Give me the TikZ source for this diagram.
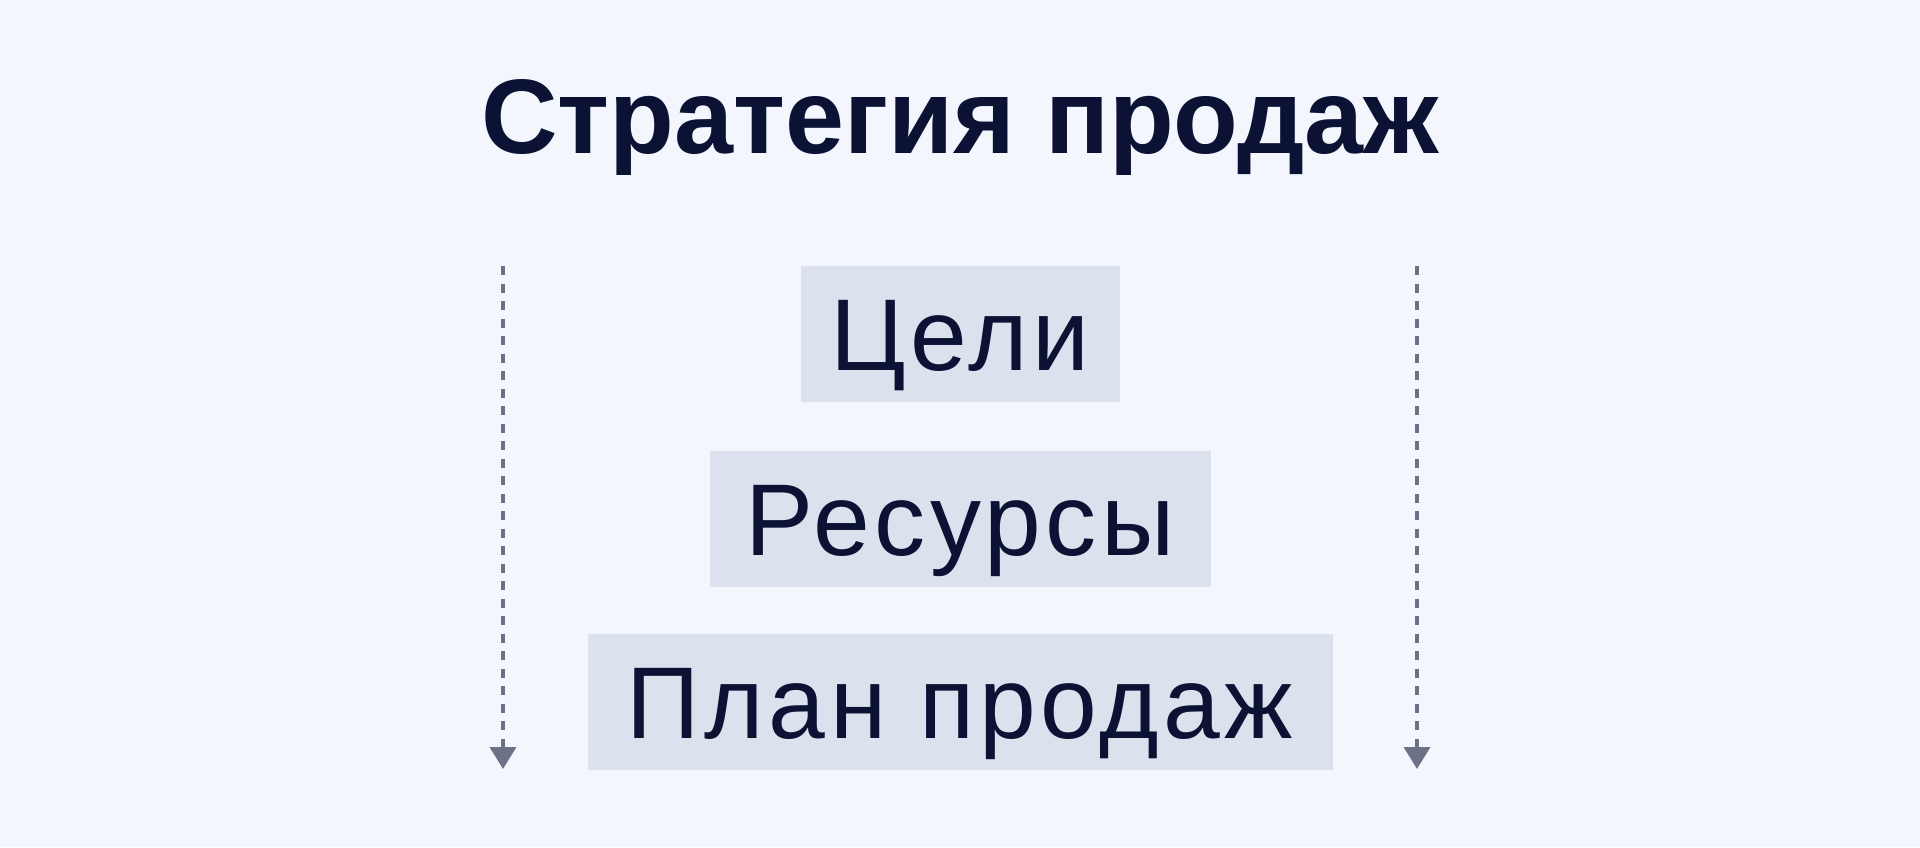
\documentclass[tikz,border=0pt]{standalone}
\usepackage{fontspec}
\setmainfont{Liberation Sans}
\usetikzlibrary{arrows.meta}
\definecolor{bgc}{HTML}{F3F7FD}
\definecolor{boxc}{HTML}{DCE2ED}
\definecolor{txtc}{HTML}{0B1233}
\definecolor{arrc}{HTML}{6B7285}
\tikzset{
  stagebox/.style={fill=boxc, draw=none, inner sep=0pt, text=txtc,
    text height=73pt, text depth=0pt, minimum height=136pt,
    font=\fontsize{102}{110}\selectfont\addfontfeatures{LetterSpace=4.5}},
  flowarrow/.style={draw=arrc, line width=3.8pt, dash pattern=on 9pt off 8.5pt,
    -{Triangle[width=26pt,length=22pt]}},
  titletext/.style={text=txtc, inner sep=0pt, anchor=base,
    font=\fontsize{106}{114}\selectfont\bfseries}
}
\begin{document}
\begin{tikzpicture}[x=1pt,y=-1pt]
\useasboundingbox (0,0) rectangle (1920,847);
\fill[bgc] (0,0) rectangle (1920,847);
\node[titletext] (title) at (960,153) {Стратегия продаж};
\node[stagebox, minimum width=319pt] (goals) at (960,334) {Цели};
\node[stagebox, minimum width=501pt] (res) at (960,519) {Ресурсы};
\node[stagebox, minimum width=745pt] (plan) at (960,702) {План продаж};
\coordinate (ls) at (503,266);
\coordinate (le) at (503,769);
\coordinate (rs) at (1417,266);
\coordinate (re) at (1417,769);
\draw[flowarrow] (ls) -- (le);
\draw[flowarrow] (rs) -- (re);
\end{tikzpicture}
\end{document}
